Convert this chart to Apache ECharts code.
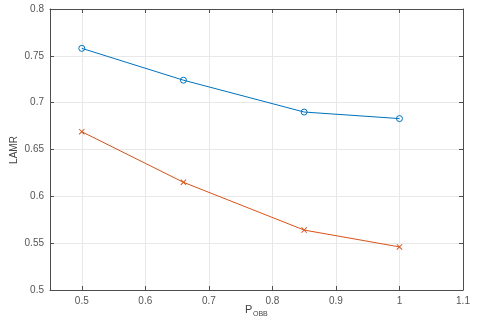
<!DOCTYPE html>
<html><head><meta charset="utf-8">
<script src="https://cdn.jsdelivr.net/npm/echarts@6/dist/echarts.min.js"></script>
<style>html,body{margin:0;padding:0;background:#fff}#c{width:477px;height:323px}</style>
</head><body><div id="c"></div>
<script>
const pValues = [0.5, 0.66, 0.85, 1.0];
const seriesA = [0.758, 0.724, 0.690, 0.683];
const seriesB = [0.669, 0.615, 0.564, 0.546];
const xTicks = [0.5, 0.6, 0.7, 0.8, 0.9, 1, 1.1];
const yTicks = [0.5, 0.55, 0.6, 0.65, 0.7, 0.75, 0.8];

const axisCol = '#4d4d4d';
const gridCol = '#e8e8e8';
const font = 'Liberation Sans, Arial, sans-serif';
const crossPath = 'path://M0,1.1L1.1,0L10,8.9L8.9,10Z M8.9,0L10,1.1L1.1,10L0,8.9Z';

function xa(show, pos) {
  return {
    type: 'value', position: pos, min: 0.45, max: 1.1,
    axisLine: {show: true, onZero: false, lineStyle: {color: axisCol, width: 1}},
    axisTick: {show: true, inside: true, length: 4, customValues: xTicks, lineStyle: {color: axisCol}},
    axisLabel: {show: show, customValues: xTicks, color: '#555', fontSize: 10, fontFamily: font, margin: 6,
      formatter: v => String(+v.toFixed(2))},
    splitLine: {show: show, lineStyle: {color: gridCol, width: 1}}
  };
}
function ya(show, pos) {
  return {
    type: 'value', position: pos, min: 0.5, max: 0.8, interval: 0.05,
    axisLine: {show: true, onZero: false, lineStyle: {color: axisCol, width: 1}},
    axisTick: {show: true, inside: true, length: 4, lineStyle: {color: axisCol}},
    axisLabel: {show: show, color: '#555', fontSize: 10, fontFamily: font, margin: 6,
      formatter: v => String(+v.toFixed(2))},
    splitLine: {show: show, lineStyle: {color: gridCol, width: 1}}
  };
}

const chart = echarts.init(document.getElementById('c'), null, {renderer: 'canvas'});
chart.setOption({
  backgroundColor: '#fff',
  animation: false,
  grid: {left: 50, right: 14, top: 9, bottom: 33, containLabel: false},
  xAxis: [xa(true, 'bottom'), xa(false, 'top')],
  yAxis: [ya(true, 'left'), ya(false, 'right')],
  graphic: [
    {type: 'text', rotation: Math.PI/2, position: [14, 150], style: {text: 'LAMR', fill: '#444', fontSize: 10, fontFamily: font, align: 'center', verticalAlign: 'middle'}},
    {type: 'text', position: [245, 304], style: {text: 'P', fill: '#444', fontSize: 11, fontFamily: font}},
    {type: 'text', position: [253, 311], style: {text: 'OBB', fill: '#444', fontSize: 7, fontFamily: font}}
  ],
  series: [
    {type: 'line', data: pValues.map((p, i) => [p, seriesA[i]]),
      symbol: 'circle', symbolSize: 6,
      lineStyle: {color: '#0072BD', width: 1}, itemStyle: {color: 'rgba(255,255,255,0)', borderColor: '#0072BD', borderWidth: 1}},
    {type: 'line', data: pValues.map((p, i) => [p, seriesB[i]]),
      symbol: crossPath, symbolSize: 6,
      lineStyle: {color: '#D95319', width: 1}, itemStyle: {color: '#D95319', borderWidth: 0}}
  ]
});
</script></body></html>
